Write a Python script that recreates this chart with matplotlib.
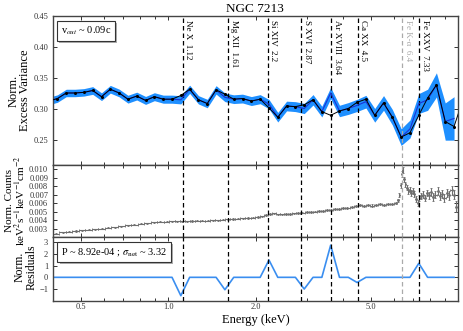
import numpy as np
import matplotlib.pyplot as plt
import matplotlib.patheffects as pe
from matplotlib.ticker import FixedLocator, FixedFormatter, NullFormatter, FormatStrFormatter

plt.rcParams['font.family'] = ['Liberation Serif', 'DejaVu Serif']
plt.rcParams['mathtext.fontset'] = 'stix'

# energy bins of the variance spectrum (keV)
bin_E = [0.3863, 0.4143, 0.4443, 0.4766, 0.5111, 0.5482, 0.5879, 0.6305, 0.6762, 0.7253,
         0.7779, 0.8343, 0.8948, 0.9597, 1.0293, 1.1039, 1.1839, 1.2698, 1.3618, 1.4606,
         1.5665, 1.6800, 1.8018, 1.9325, 2.0726, 2.2229, 2.3840, 2.5569, 2.7422, 2.9410,
         3.1543, 3.3830, 3.6282, 3.8913, 4.1734, 4.4760, 4.8005, 5.1485, 5.5218, 5.9221,
         6.3515, 6.8120, 7.3058, 7.8355, 8.4036, 9.0128, 9.6663]
# measured normalised excess variance and its error
nxs = [0.313, 0.317, 0.326, 0.326, 0.327, 0.330, 0.320, 0.332, 0.326, 0.316,
       0.321, 0.314, 0.320, 0.316, 0.316, 0.315, 0.332, 0.315, 0.309, 0.331,
       0.319, 0.316, 0.317, 0.313, 0.316, 0.308, 0.287, 0.305, 0.304, 0.301,
       0.315, 0.296, 0.326, 0.297, 0.301, 0.306, 0.312, 0.290, 0.310, 0.287,
       0.255, 0.268, 0.309, 0.315, 0.339, 0.280, 0.285]
nxs_err = [0.0060, 0.0060, 0.0060, 0.0060, 0.0060, 0.0062, 0.0062, 0.0062, 0.0062, 0.0063,
           0.0063, 0.0064, 0.0064, 0.0065, 0.0065, 0.0066, 0.0066, 0.0067, 0.0068, 0.0068,
           0.0069, 0.0070, 0.0071, 0.0072, 0.0073, 0.0075, 0.0077, 0.0078, 0.0080, 0.0082,
           0.0084, 0.0086, 0.0090, 0.0092, 0.0095, 0.0098, 0.0102, 0.0110, 0.0118, 0.0125,
           0.0135, 0.0145, 0.0160, 0.0170, 0.0195, 0.0300, 0.0350]
# model curve (black)
model_E = bin_E + [10.2]
model = [0.313, 0.317, 0.326, 0.326, 0.327, 0.330, 0.320, 0.332, 0.326, 0.316,
         0.321, 0.314, 0.320, 0.316, 0.316, 0.322, 0.332, 0.315, 0.309, 0.331,
         0.324, 0.316, 0.317, 0.313, 0.316, 0.302, 0.287, 0.305, 0.304, 0.307,
         0.315, 0.296, 0.290, 0.297, 0.301, 0.311, 0.316, 0.290, 0.310, 0.287,
         0.255, 0.262, 0.290, 0.318, 0.339, 0.280, 0.272, 0.305]
# normalised residuals
resid = [0, 0, 0, 0, 0, 0, 0, 0, 0, 0,
         0, 0, 0, 0, 0, -1.57, 0, 0, 0, 0,
         -1.06, 0, 0, 0, 0, 1.48, 0, 0, 0, -1.0,
         0, 0, 2.75, 0, 0, -0.44, 0, 0, 0, 0,
         0, 0, 1.2, 0, 0, 0, 0]

# count spectrum
spec_E = [0.41, 0.432, 0.455, 0.479, 0.504, 0.531, 0.559, 0.589, 0.620, 0.653,
          0.688, 0.724, 0.763, 0.803, 0.846, 0.891, 0.938, 0.988,
          1.03, 1.072, 1.116, 1.162, 1.21, 1.26, 1.311, 1.365, 1.421, 1.479,
          1.54, 1.603, 1.669, 1.737, 1.808, 1.882, 1.96,
          2.03, 2.097, 2.166, 2.238, 2.311, 2.388, 2.466, 2.548, 2.632, 2.719,
          2.808, 2.901, 2.997, 3.096, 3.198, 3.303, 3.412, 3.525, 3.641, 3.761,
          3.886, 4.014, 4.146, 4.283, 4.424, 4.57, 4.721, 4.877, 5.038, 5.204,
          5.376, 5.553, 5.737, 5.926, 6.08, 6.18,
          6.26, 6.32, 6.38, 6.44, 6.50, 6.57, 6.64, 6.72, 6.80, 6.88,
          6.97, 7.06, 7.15, 7.24, 7.34, 7.45, 7.56, 7.68, 7.80, 7.93,
          8.06, 8.20, 8.34, 8.49, 8.64, 8.80, 8.96, 9.13, 9.30, 9.48,
          9.66, 9.84]
spec_F = [0.00238, 0.00255, 0.00262, 0.00270, 0.00278, 0.00285, 0.00292, 0.00300, 0.00307, 0.00316,
          0.00326, 0.00336, 0.00345, 0.00355, 0.00365, 0.00374, 0.00379, 0.00382,
          0.00384, 0.00385, 0.00386, 0.00387, 0.00388, 0.00390, 0.00392, 0.00394, 0.00396, 0.00399,
          0.00403, 0.00408, 0.00412, 0.00416, 0.00420, 0.00425, 0.00430,
          0.00438, 0.00445, 0.00458, 0.00470, 0.00478, 0.00468, 0.00466, 0.00470, 0.00474, 0.00478,
          0.00483, 0.00488, 0.00493, 0.00497, 0.00501, 0.00505, 0.00509, 0.00514, 0.00520, 0.00526,
          0.00532, 0.00539, 0.00546, 0.00554, 0.00566, 0.00574, 0.00569, 0.00577, 0.00571, 0.00580,
          0.00586, 0.00578, 0.00592, 0.00590, 0.00602, 0.00635,
          0.0070, 0.0081, 0.0094, 0.0099, 0.0088, 0.0082, 0.0078, 0.0074, 0.0076, 0.0072,
          0.0074, 0.0071, 0.0065, 0.0060, 0.0066, 0.0068, 0.0070, 0.0066, 0.0072, 0.0069,
          0.0073, 0.0067, 0.0070, 0.0074, 0.0068, 0.0071, 0.0066, 0.0072, 0.0069, 0.0075,
          0.0070, 0.0056]
spec_err = [0.00008, 0.00007, 0.00007, 0.00007, 0.00006, 0.00006, 0.00006, 0.00006, 0.00006, 0.00006,
            0.00006, 0.00006, 0.00006, 0.00006, 0.00006, 0.00006, 0.00006, 0.00006,
            0.00007, 0.00007, 0.00007, 0.00007, 0.00007, 0.00007, 0.00007, 0.00007, 0.00007, 0.00007,
            0.00007, 0.00007, 0.00007, 0.00008, 0.00008, 0.00008, 0.00008,
            0.00008, 0.00008, 0.00008, 0.00009, 0.00009, 0.00009, 0.00009, 0.00009, 0.00009, 0.00009,
            0.00009, 0.00010, 0.00010, 0.00010, 0.00010, 0.00010, 0.00010, 0.00011, 0.00011, 0.00011,
            0.00011, 0.00011, 0.00012, 0.00012, 0.00012, 0.00012, 0.00013, 0.00013, 0.00013, 0.00014,
            0.00014, 0.00014, 0.00015, 0.00015, 0.00016, 0.00018,
            0.00025, 0.00030, 0.00035, 0.00035, 0.00032, 0.00030, 0.00030, 0.00030, 0.00032, 0.00032,
            0.00033, 0.00033, 0.00035, 0.00035, 0.00036, 0.00037, 0.00038, 0.00040, 0.00040, 0.00042,
            0.00043, 0.00044, 0.00045, 0.00046, 0.00048, 0.00050, 0.00050, 0.00052, 0.00054, 0.00055,
            0.00057, 0.00060]

# line identifications
line_E = [1.12, 1.61, 2.2, 2.87, 3.64, 4.5, 6.4, 7.33]
line_lab = ['Ne X  1.12', 'Mg XII  1.61', 'Si XIV  2.2', 'S XVI  2.87',
            'Ar XVIII  3.64', 'Ca XX  4.5', 'Fe K-\u03b1  6.4', 'Fe XXV  7.33']
line_col = ['k', 'k', 'k', 'k', 'k', 'k', '#aaaaaa', 'k']

# bin half widths of the spectrum from the channel midpoints
sE = np.array(spec_E)
mids = np.sqrt(sE[1:] * sE[:-1])
lo = np.concatenate([[sE[0] ** 2 / mids[0]], mids])
hi = np.concatenate([mids, [sE[-1] ** 2 / mids[-1]]])
xerr = [sE - lo, hi - sE]

fig = plt.figure(figsize=(4.63, 3.31), dpi=100)
ax1 = fig.add_axes([0.1145, 0.5015, 0.8754, 0.4502])
ax2 = fig.add_axes([0.1145, 0.2840, 0.8754, 0.2175])
ax3 = fig.add_axes([0.1145, 0.0915, 0.8754, 0.1925])

# top panel
lowb = np.array(nxs) - np.array(nxs_err)
upb = np.array(nxs) + np.array(nxs_err)
ax1.fill_between(bin_E, lowb, upb, color='#1e8fff', lw=0, zorder=1)
ax1.plot(bin_E, nxs, color='#1832d8', lw=0.8, zorder=4)
ax1.plot(model_E, model, color='k', lw=0.7, zorder=5)
ax1.plot(bin_E, model[:-1], 'o', color='k', ms=1.2, zorder=6)
ax1.set_ylim(0.21, 0.45)
ax1.set_yticks([0.25, 0.30, 0.35, 0.40, 0.45])
ax1.yaxis.set_major_formatter(FormatStrFormatter('%.2f'))

# middle panel
ax2.errorbar(spec_E, spec_F, yerr=spec_err, xerr=xerr, fmt='none',
             ecolor='#6f6f6f', elinewidth=0.8, capsize=0.8, capthick=0.6)
ax2.set_ylim(0.002, 0.0105)
ax2.set_yticks([0.003, 0.004, 0.005, 0.006, 0.007, 0.008, 0.009, 0.010])
ax2.yaxis.set_major_formatter(FormatStrFormatter('%.3f'))

# bottom panel
ax3.plot(bin_E, resid, color='#3a8ef0', lw=1.2)
ax3.set_ylim(-2, 3.45)
ax3.set_yticks([-1, 0, 1, 2, 3])

for ax in [ax1, ax2, ax3]:
    ax.set_xscale('log')
    ax.set_xlim(0.4, 10)
    ax.xaxis.set_major_locator(FixedLocator([0.5, 1.0, 2.0, 5.0]))
    ax.xaxis.set_minor_locator(FixedLocator([0.4, 0.6, 0.7, 0.8, 0.9, 3, 4, 6, 7, 8, 9]))
    ax.xaxis.set_minor_formatter(NullFormatter())
    ax.tick_params(which='both', direction='in', top=True, right=True,
                   labelsize=6, colors='#333333', width=0.7)
    ax.tick_params(which='major', length=3)
    ax.tick_params(which='minor', length=2)
    for sp in ax.spines.values():
        sp.set_color('#444444')
        sp.set_linewidth(1.0)
    for e, c in zip(line_E, line_col):
        ax.axvline(e, color=c, lw=0.9, ls=(0, (3.6, 2.4)), zorder=3)

ax1.xaxis.set_major_formatter(NullFormatter())
ax2.xaxis.set_major_formatter(NullFormatter())
ax3.xaxis.set_major_formatter(FixedFormatter(['0.5', '1.0', '2.0', '5.0']))
ax3.tick_params(axis='x', which='major', pad=2)

for e, lab, c in zip(line_E, line_lab, line_col):
    ax1.text(e * 1.012, 0.972, lab, transform=ax1.get_xaxis_transform(),
             rotation=270, ha='left', va='top', fontsize=6.5, color=c)

shadow = [pe.withSimplePatchShadow(offset=(1.5, -1.5), shadow_rgbFace='#999999', alpha=0.8)]
t1 = ax1.text(0.019, 0.94, r'v$_{out}$ ~ 0.09c', transform=ax1.transAxes,
              ha='left', va='top', fontsize=7.5,
              bbox=dict(boxstyle='square,pad=0.35', fc='white', ec='#333333', lw=0.8))
t1.get_bbox_patch().set_path_effects(shadow)
t2 = ax3.text(0.02, 0.86, r'P ~ 8.92e-04 ; $\sigma_{\rm net}$ ~ 3.32', transform=ax3.transAxes,
              ha='left', va='top', fontsize=7.5,
              bbox=dict(boxstyle='square,pad=0.35', fc='white', ec='#333333', lw=0.8))
t2.get_bbox_patch().set_path_effects(shadow)

fig.text(0.0421, 0.7266, 'Norm.\nExcess Variance', rotation=90, ha='center', va='center',
         multialignment='center', fontsize=9, linespacing=1.0)
fig.text(0.0346, 0.3928, 'Norm. Counts\nkeV$^2$s$^{-1}$keV$^{-1}$cm$^{-2}$', rotation=90,
         ha='center', va='center', multialignment='center', fontsize=8, linespacing=0.95)
fig.text(0.0562, 0.1930, 'Norm.\nResiduals', rotation=90, ha='center', va='center',
         multialignment='center', fontsize=8.5, linespacing=1.0)
fig.text(0.550, 0.9713, 'NGC 7213', ha='center', va='center', fontsize=9.5)
fig.text(0.5518, 0.0320, 'Energy (keV)', ha='center', va='center', fontsize=9)

plt.savefig('out.png', dpi=100)
